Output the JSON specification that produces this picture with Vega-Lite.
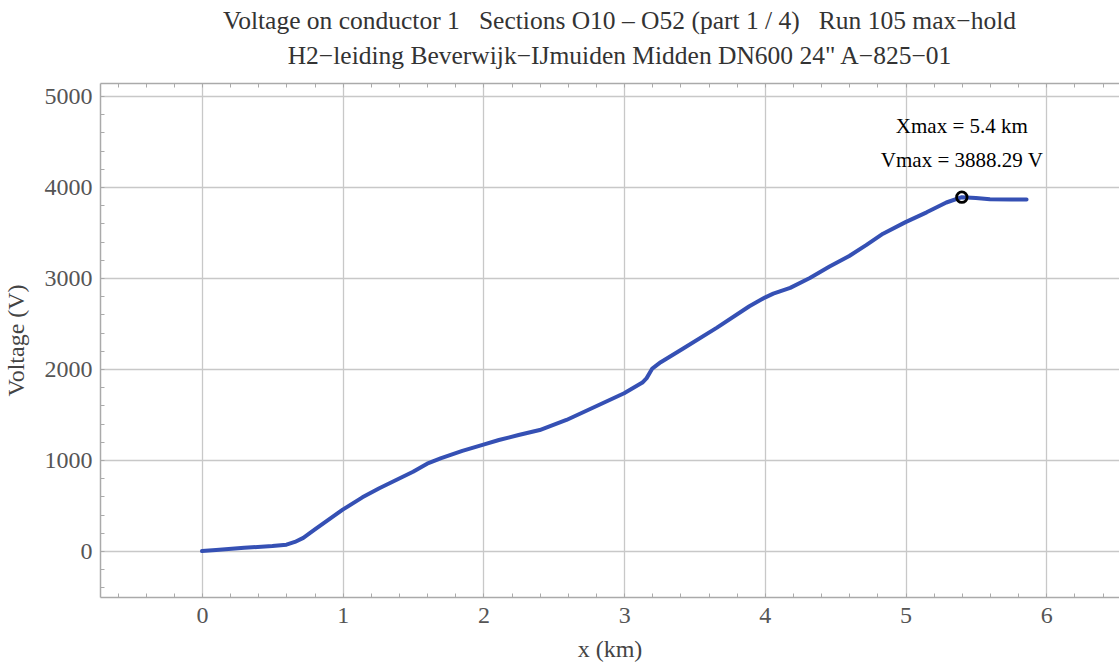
{
  "$schema": "https://vega.github.io/schema/vega-lite/v6.json",
  "width": 1019,
  "height": 514,
  "autosize": {"type": "none"},
  "padding": {"left": 100, "top": 83, "right": 0, "bottom": 67},
  "background": "white",
  "config": {"view": {"stroke": null}, "font": "Liberation Serif"},
  "title": {
    "text": ["Voltage on conductor 1\u00a0\u00a0\u00a0Sections O10 \u2013 O52 (part 1 / 4)\u00a0\u00a0\u00a0Run 105 max\u2212hold", "H2\u2212leiding Beverwijk\u2212IJmuiden Midden DN600 24\" A\u2212825\u221201"],
    "font": "Liberation Serif",
    "fontSize": 25.5,
    "fontWeight": "normal",
    "color": "#333333",
    "lineHeight": 35,
    "offset": 13,
    "anchor": "middle",
    "frame": "group",
    "dx": 10
  },
  "datasets": {
    "curve": [
      {"x": 0, "v": 0},
      {"x": 0.1, "v": 12},
      {"x": 0.3, "v": 35},
      {"x": 0.5, "v": 55},
      {"x": 0.6, "v": 70},
      {"x": 0.66, "v": 100},
      {"x": 0.72, "v": 145},
      {"x": 0.8, "v": 235},
      {"x": 0.93, "v": 377},
      {"x": 1.0, "v": 455},
      {"x": 1.14, "v": 590},
      {"x": 1.26, "v": 690},
      {"x": 1.38, "v": 780},
      {"x": 1.5, "v": 872},
      {"x": 1.6, "v": 960},
      {"x": 1.7, "v": 1022},
      {"x": 1.85, "v": 1100},
      {"x": 2.0, "v": 1170},
      {"x": 2.11, "v": 1220},
      {"x": 2.25, "v": 1275},
      {"x": 2.4, "v": 1330},
      {"x": 2.59, "v": 1440},
      {"x": 2.82, "v": 1605},
      {"x": 3.0, "v": 1734},
      {"x": 3.13, "v": 1851},
      {"x": 3.16, "v": 1900},
      {"x": 3.2, "v": 2005},
      {"x": 3.26, "v": 2075},
      {"x": 3.42, "v": 2225},
      {"x": 3.66, "v": 2455},
      {"x": 3.89, "v": 2690},
      {"x": 4.0, "v": 2785},
      {"x": 4.06, "v": 2828},
      {"x": 4.18, "v": 2892},
      {"x": 4.32, "v": 3000},
      {"x": 4.46, "v": 3126},
      {"x": 4.6, "v": 3242},
      {"x": 4.72, "v": 3361},
      {"x": 4.84, "v": 3487},
      {"x": 5.0, "v": 3614},
      {"x": 5.15, "v": 3722},
      {"x": 5.29, "v": 3830},
      {"x": 5.4, "v": 3888.29},
      {"x": 5.5, "v": 3880},
      {"x": 5.6, "v": 3865},
      {"x": 5.75, "v": 3862},
      {"x": 5.86, "v": 3862}
    ],
    "peak": [{"x": 5.4, "v": 3888.29}],
    "notes": [
      {"x": 5.4, "v": 4660, "label": "Xmax = 5.4 km"},
      {"x": 5.4, "v": 4290, "label": "Vmax = 3888.29 V"}
    ]
  },
  "layer": [
    {
      "data": {"name": "curve"},
      "mark": {"type": "line", "color": "#3550b4", "strokeWidth": 4, "strokeCap": "round", "strokeJoin": "round", "clip": true},
      "encoding": {
        "x": {
          "field": "x", "type": "quantitative",
          "scale": {"domain": [-0.725, 6.517], "nice": false, "zero": false},
          "axis": {
            "orient": "bottom", "values": [0, 1, 2, 3, 4, 5, 6], "format": "d",
            "title": "x (km)", "titleFont": "Liberation Serif", "titleFontSize": 24, "titleFontWeight": "normal", "titleColor": "#444444", "titlePadding": 10,
            "labelFont": "Liberation Serif", "labelFontSize": 24, "labelColor": "#555555", "labelPadding": 6, "labelFlush": false,
            "ticks": false, "grid": true, "gridColor": "#c8c8c8", "gridWidth": 1.3,
            "domainColor": "#aaaaaa", "domainWidth": 1.5
          }
        },
        "y": {
          "field": "v", "type": "quantitative",
          "scale": {"domain": [-505, 5143], "nice": false, "zero": false},
          "axis": {
            "orient": "left", "values": [0, 1000, 2000, 3000, 4000, 5000], "format": "d",
            "title": "Voltage (V)", "titleFont": "Liberation Serif", "titleFontSize": 24, "titleFontWeight": "normal", "titleColor": "#444444", "titlePadding": 16,
            "labelFont": "Liberation Serif", "labelFontSize": 24, "labelColor": "#555555", "labelPadding": 8, "labelFlush": false,
            "ticks": false, "grid": true, "gridColor": "#c8c8c8", "gridWidth": 1.3,
            "domainColor": "#aaaaaa", "domainWidth": 1.5
          }
        }
      }
    },
    {
      "data": {"name": "peak"},
      "mark": {"type": "point", "shape": "circle", "filled": false, "color": "black", "strokeWidth": 2.8, "size": 110, "opacity": 1},
      "encoding": {
        "x": {
          "field": "x", "type": "quantitative",
          "axis": {
            "orient": "bottom", "values": [-0.6, -0.4, -0.2, 0, 0.2, 0.4, 0.6, 0.8, 1, 1.2, 1.4, 1.6, 1.8, 2, 2.2, 2.4, 2.6, 2.8, 3, 3.2, 3.4, 3.6, 3.8, 4, 4.2, 4.4, 4.6, 4.8, 5, 5.2, 5.4, 5.6, 5.8, 6, 6.2, 6.4],
            "labels": false, "domain": false, "grid": false, "title": null,
            "ticks": true, "tickSize": -4, "tickColor": "#aaaaaa", "tickWidth": 1
          }
        },
        "y": {
          "field": "v", "type": "quantitative",
          "axis": {
            "orient": "left", "values": [-400, -200, 0, 200, 400, 600, 800, 1000, 1200, 1400, 1600, 1800, 2000, 2200, 2400, 2600, 2800, 3000, 3200, 3400, 3600, 3800, 4000, 4200, 4400, 4600, 4800, 5000],
            "labels": false, "domain": false, "grid": false, "title": null,
            "ticks": true, "tickSize": -4, "tickColor": "#aaaaaa", "tickWidth": 1
          }
        }
      }
    },
    {
      "data": {"name": "notes"},
      "mark": {"type": "text", "font": "Liberation Serif", "fontSize": 21, "color": "black", "align": "center", "baseline": "middle"},
      "encoding": {
        "x": {
          "field": "x", "type": "quantitative",
          "axis": {
            "orient": "top", "values": [-0.6, -0.4, -0.2, 0, 0.2, 0.4, 0.6, 0.8, 1, 1.2, 1.4, 1.6, 1.8, 2, 2.2, 2.4, 2.6, 2.8, 3, 3.2, 3.4, 3.6, 3.8, 4, 4.2, 4.4, 4.6, 4.8, 5, 5.2, 5.4, 5.6, 5.8, 6, 6.2, 6.4],
            "labels": false, "domain": true, "domainColor": "#aaaaaa", "domainWidth": 1.5, "grid": false, "title": null,
            "ticks": true, "tickSize": -4, "tickColor": "#aaaaaa", "tickWidth": 1
          }
        },
        "y": {"field": "v", "type": "quantitative", "axis": null},
        "text": {"field": "label"}
      }
    }
  ],
  "resolve": {"axis": {"x": "independent", "y": "independent"}}
}
